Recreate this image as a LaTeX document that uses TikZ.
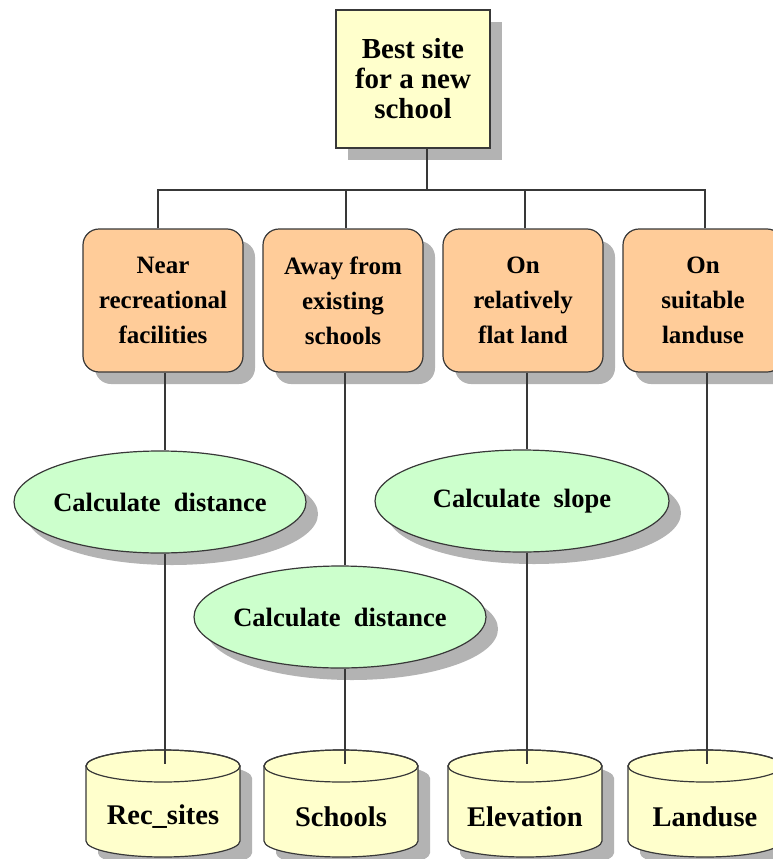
\documentclass[tikz,border=0pt]{standalone}
\usepackage{fontspec}
\setmainfont{Liberation Serif}
\usetikzlibrary{shapes.geometric,shadows}
\definecolor{topfill}{HTML}{FFFFCC}
\definecolor{boxfill}{HTML}{FFCC99}
\definecolor{ellfill}{HTML}{CCFFCC}
\definecolor{cylfill}{HTML}{FFFFCC}
\definecolor{shadowgray}{HTML}{B3B3B3}
\definecolor{linec}{HTML}{383838}
\newcommand\dbcyl[3]{%
  \fill[shadowgray] ({#2-77+12},{766+12}) -- ({#2-77+12},{841+12}) arc[start angle=180,end angle=360,x radius=77pt,y radius=16pt] -- ({#2+77+12},{766+12}) arc[start angle=0,end angle=180,x radius=77pt,y radius=16pt] -- cycle;
  \draw[outl,fill=cylfill] ({#2-77},766) -- ({#2-77},841) arc[start angle=180,end angle=360,x radius=77pt,y radius=16pt] -- ({#2+77},766) arc[start angle=0,end angle=180,x radius=77pt,y radius=16pt] -- cycle;
  \draw[outl] (#2,766) ellipse[x radius=77pt,y radius=16pt];
  \node[txt,font=\fontsize{28.5}{30}\selectfont\bfseries] (#1) at (#2,817) {#3};
  \coordinate (#1top) at (#2,764);
}
\begin{document}
\begin{tikzpicture}[x=1pt,y=-1pt,
  outl/.style={draw=linec,line width=1.2pt},
  txt/.style={inner sep=0pt,align=center},
  shad/.style={drop shadow={shadow xshift=12pt,shadow yshift=-12pt,fill=shadowgray,opacity=1}},
  topbox/.style={outl,shad,fill=topfill,rectangle,inner sep=0pt,minimum width=154pt,minimum height=138pt,align=center,font=\fontsize{29}{30}\selectfont\bfseries},
  critbox/.style={outl,shad,fill=boxfill,rectangle,rounded corners=16pt,inner sep=0pt,minimum width=160pt,minimum height=143pt,align=center,font=\fontsize{25}{35}\selectfont\bfseries},
  procell/.style={outl,shad,fill=ellfill,ellipse,inner xsep=-40pt,inner ysep=0pt,minimum width=292pt,minimum height=102pt,align=center,font=\fontsize{26.5}{30}\selectfont\bfseries},
  conn/.style={draw=linec,line width=1.2pt}]
\useasboundingbox (0,0) rectangle (773,859);
\clip (0,0) rectangle (773,859);

\node[topbox] (top) at (413,79) {Best site\\for a new\\school};

\node[critbox] (b1) at (163,300.5) {Near\\recreational\\facilities};
\node[critbox] (b2) at (343,300.5) {Away from\\existing\\schools};
\node[critbox] (b3) at (523,300.5) {On\\relatively\\flat land};
\node[critbox] (b4) at (703,300.5) {On\\suitable\\landuse};

\node[procell] (e1) at (160,502) {Calculate~ distance};
\node[procell] (e2) at (340,617) {Calculate~ distance};
\node[procell,minimum width=294pt] (e3) at (522,501) {Calculate~ slope};

\dbcyl{c1}{163}{Rec\_sites}
\dbcyl{c2}{341}{Schools}
\dbcyl{c3}{525}{Elevation}
\dbcyl{c4}{705}{Landuse}

\coordinate (bar) at (427,190);
\coordinate (L1) at (165,0);
\coordinate (L2) at (345,0);
\coordinate (L3) at (527,0);
\coordinate (L4) at (707,0);

\draw[conn] (top.south -| bar) -- (bar);
\draw[conn] ([xshift=-5pt]b1.north) |- (bar);
\draw[conn] ([xshift=2pt]b4.north) |- (bar);
\draw[conn] ([xshift=3pt]b2.north) -- ([xshift=3pt]b2.north |- bar);
\draw[conn] ([xshift=2pt]b3.north) -- ([xshift=2pt]b3.north |- bar);

\draw[conn] (b1.south -| L1) -- (e1.north -| L1);
\draw[conn] (e1.south -| L1) -- (c1top -| L1);
\draw[conn] (b2.south -| L2) -- (e2.north -| L2);
\draw[conn] (e2.south -| L2) -- (c2top -| L2);
\draw[conn] (b3.south -| L3) -- (e3.north -| L3);
\draw[conn] (e3.south -| L3) -- (c3top -| L3);
\draw[conn] (b4.south -| L4) -- (c4top -| L4);
\end{tikzpicture}
\end{document}
